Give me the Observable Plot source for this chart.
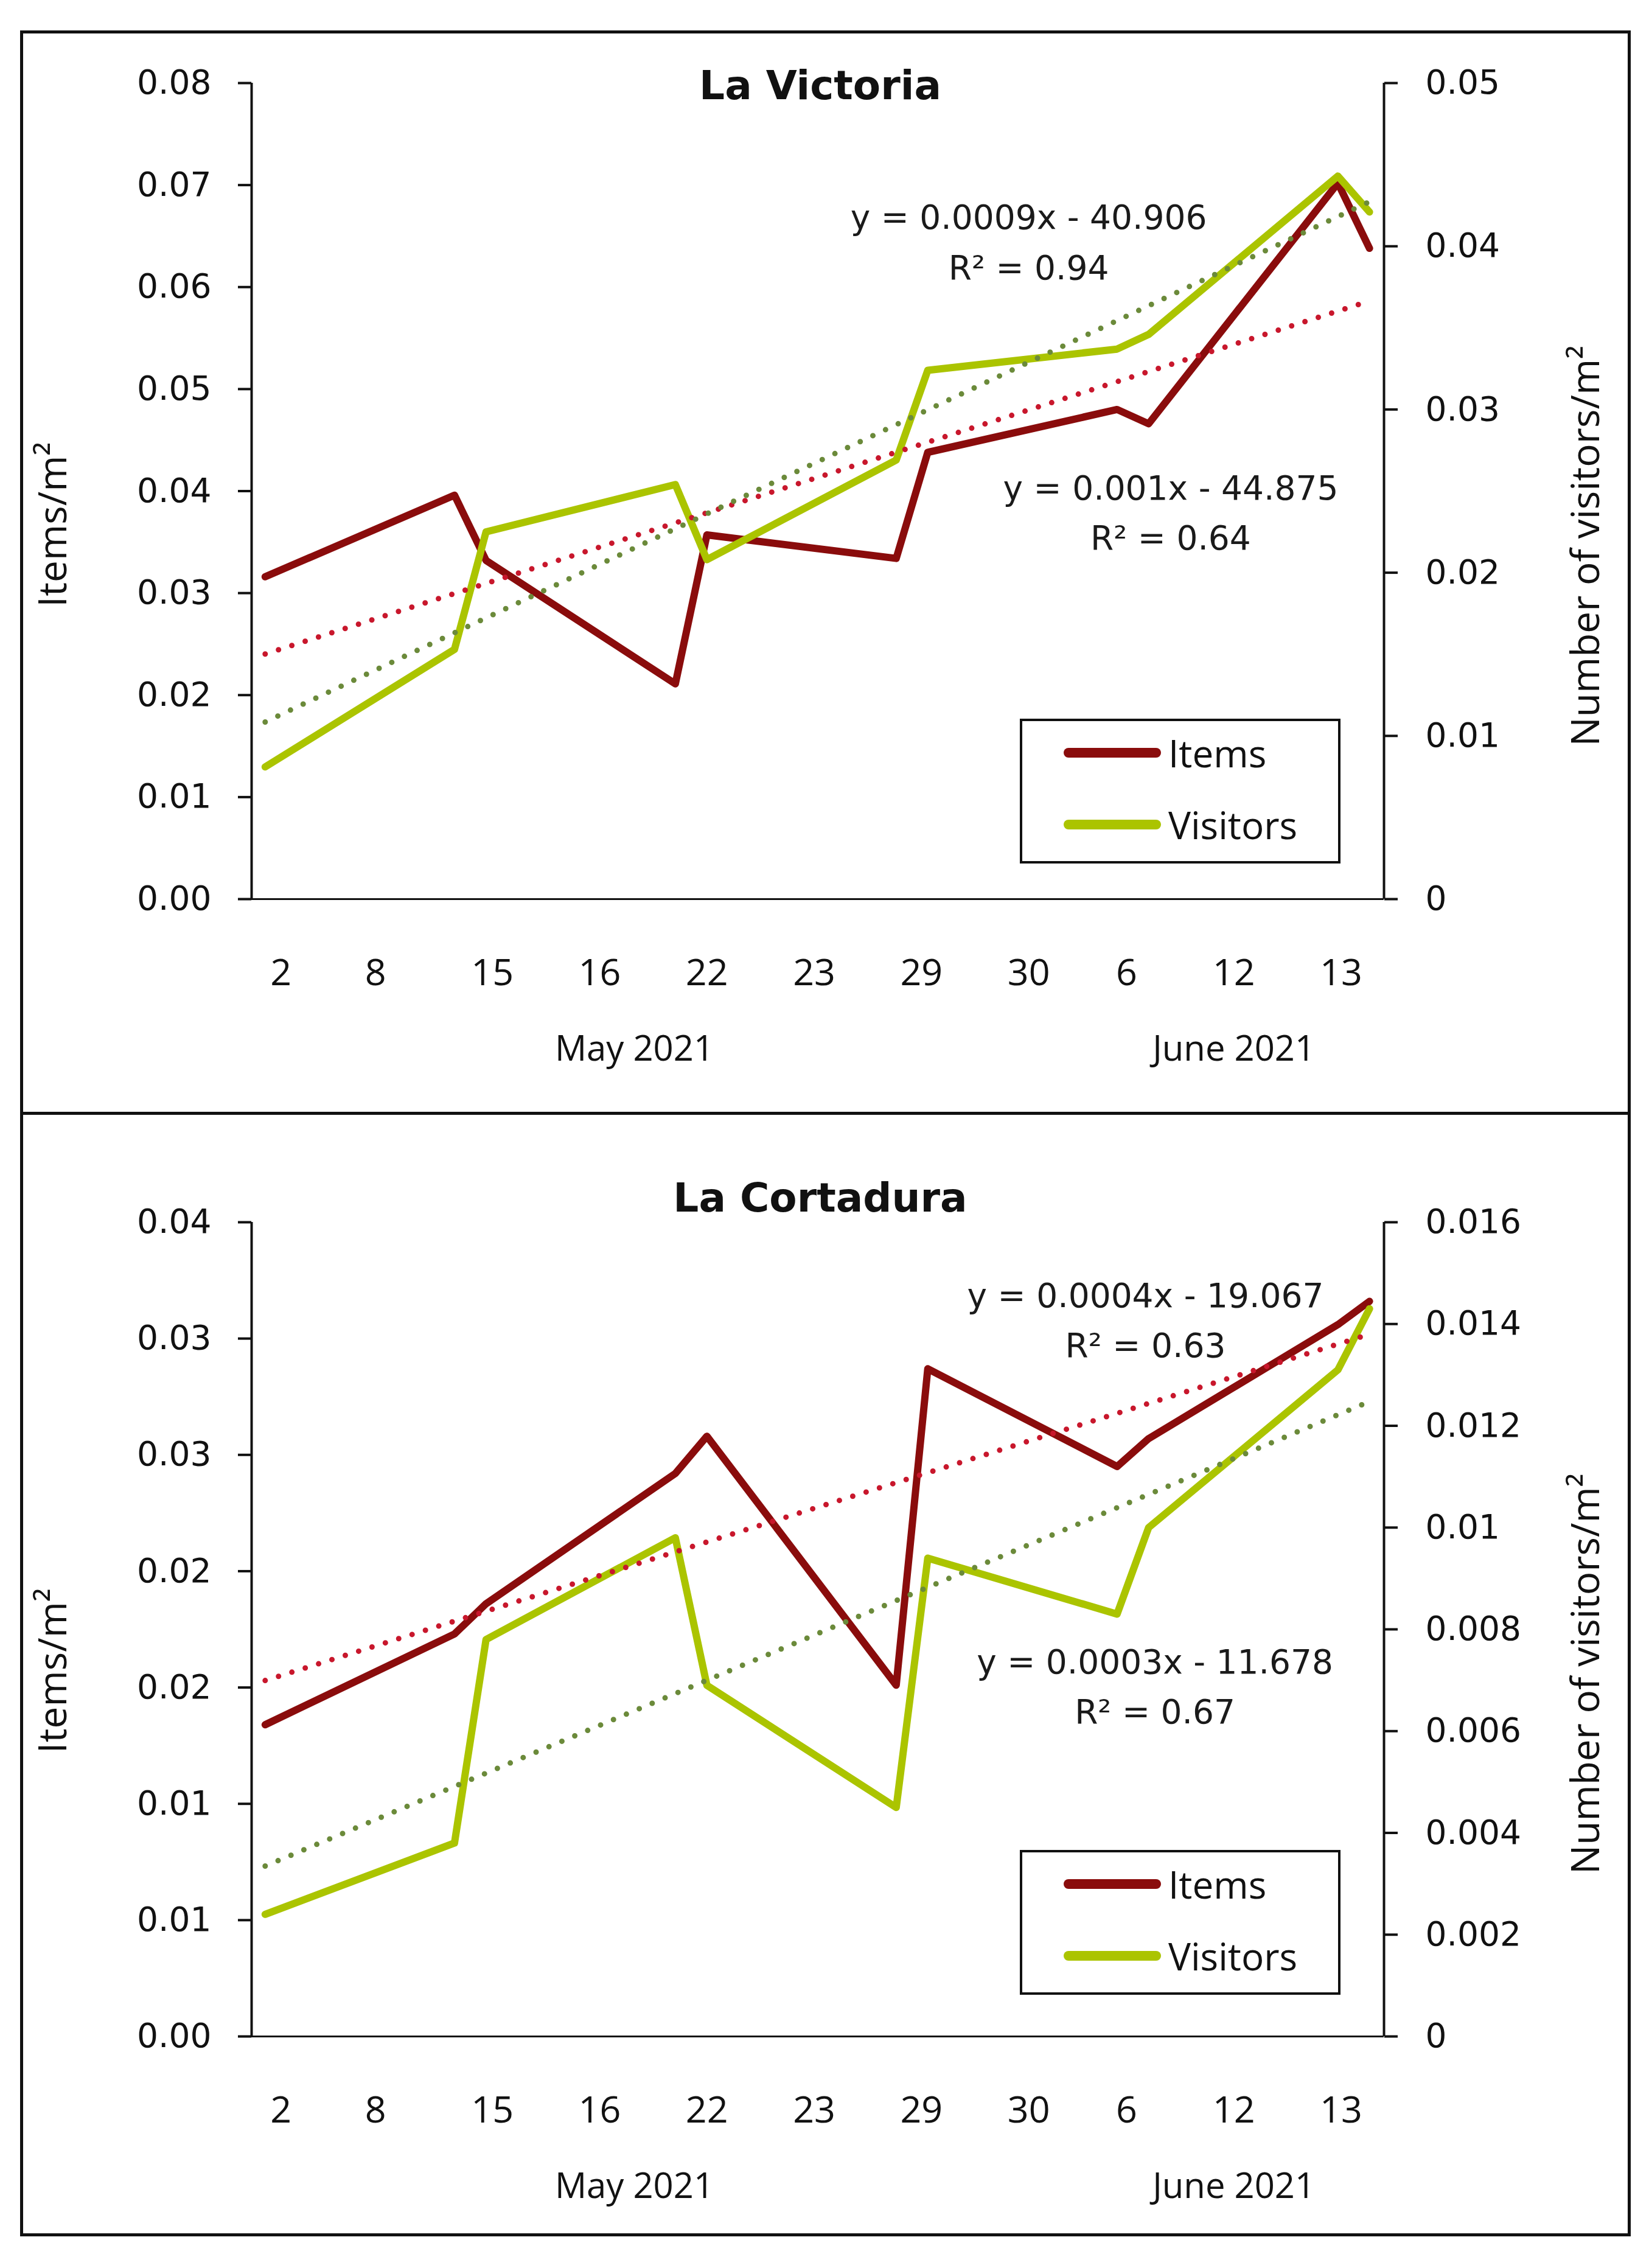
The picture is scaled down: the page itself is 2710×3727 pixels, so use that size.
<!DOCTYPE html>
<html>
<head>
<meta charset="utf-8">
<script src="https://cdn.jsdelivr.net/npm/d3@7"></script>
<script src="https://cdn.jsdelivr.net/npm/@observablehq/plot@0.6"></script>
<style>
  body { margin: 0; background: #fff; overflow: hidden; }
  #page { position: relative; width: 2710px; height: 3727px; background: #fff; }
  #page svg { position: absolute; left: 0; }
  .box { position: absolute; left: 33px; top: 50px; width: 2647px; height: 3625px; border: 5px solid #111; box-sizing: border-box; }
  .divider { position: absolute; left: 33px; top: 1827px; width: 2647px; height: 5px; background: #111; }
  .title { position: absolute; transform: translate(-50%, -50%); font: bold 66px 'DejaVu Sans', sans-serif; color: #111; white-space: nowrap; }
  .legend { position: absolute; border: 4px solid #111; background: #fff; box-sizing: border-box; width: 527px; height: 238px; font: 62px 'Open Sans', sans-serif; color: #111; }
  .legend .row { position: absolute; left: 68px; display: flex; align-items: center; }
  .legend .sw { width: 160px; height: 16px; border-radius: 8px; margin-right: 12px; }
</style>
</head>
<body>
<div id="page">
  <div class="box"></div>
  <div class="divider"></div>
</div>
<script>
// fechas de muestreo (posicion en dias desde el primer muestreo)
const dayPos = [0, 6, 7, 13, 14, 20, 21, 27, 28, 34, 35]
const tickDays = [0.5, 3.5, 7.2, 10.6, 14.0, 17.4, 20.8, 24.2, 27.3, 30.7, 34.1]
const tickLabels = ["2", "8", "15", "16", "22", "23", "29", "30", "6", "12", "13"]
const months = ["May 2021", "June 2021"]
const monthDays = [11.7, 30.7]
const xDomain = [-0.43, 35.46]

// La Victoria
const victoriaItems = [0.0316, 0.0396, 0.0332, 0.0211, 0.0357, 0.0334, 0.0438, 0.0480, 0.0466, 0.0702, 0.0638]
const victoriaVisitors = [0.0081, 0.0153, 0.0225, 0.0254, 0.0208, 0.0269, 0.0324, 0.0337, 0.0346, 0.0443, 0.0421]
const victoriaLeftTicks = [0, 0.01, 0.02, 0.03, 0.04, 0.05, 0.06, 0.07, 0.08]
const victoriaLeftLabels = ["0.00", "0.01", "0.02", "0.03", "0.04", "0.05", "0.06", "0.07", "0.08"]
const victoriaRightTicks = [0, 0.01, 0.02, 0.03, 0.04, 0.05]
const victoriaRightLabels = ["0", "0.01", "0.02", "0.03", "0.04", "0.05"]
const victoriaEqTexts = ["y = 0.0009x - 40.906\nR² = 0.94", "y = 0.001x - 44.875\nR² = 0.64"]
const victoriaEqDays = [24.2, 28.7]
const victoriaEqValues = [0.0648, 0.0383]

// La Cortadura
const cortaduraItems = [0.0134, 0.0173, 0.0186, 0.0242, 0.0258, 0.0151, 0.0287, 0.0245, 0.0257, 0.0306, 0.0316]
const cortaduraVisitors = [0.0024, 0.0038, 0.0078, 0.0098, 0.0069, 0.0045, 0.0094, 0.0083, 0.0100, 0.0131, 0.0143]
const cortaduraLeftTicks = [0, 0.005, 0.01, 0.015, 0.02, 0.025, 0.03, 0.035]
const cortaduraLeftLabels = ["0.00", "0.01", "0.01", "0.02", "0.02", "0.03", "0.03", "0.04"]
const cortaduraRightTicks = [0, 0.002, 0.004, 0.006, 0.008, 0.01, 0.012, 0.014, 0.016]
const cortaduraRightLabels = ["0", "0.002", "0.004", "0.006", "0.008", "0.01", "0.012", "0.014", "0.016"]
const cortaduraEqTexts = ["y = 0.0004x - 19.067\nR² = 0.63", "y = 0.0003x - 11.678\nR² = 0.67"]
const cortaduraEqDays = [27.9, 28.2]
const cortaduraEqValues = [0.03097, 0.01522]

const itemsColor = "#8a0c0c"
const visitorsColor = "#abc400"
const itemsTrendColor = "#c8172c"
const visitorsTrendColor = "#6b8a3a"

function drawPanel(p) {
  // los visitantes van en el eje derecho: se pasan a unidades del eje izquierdo
  const k = p.leftMax / p.rightMax
  const items = dayPos.map((d, i) => ({day: d, value: p.items[i]}))
  const visitors = dayPos.map((d, i) => ({day: d, value: p.visitors[i] * k}))
  const rightAt = p.rightTicks.map(v => v * k)
  const eqs = p.eqTexts.map((t, i) => ({text: t, day: p.eqDays[i], value: p.eqValues[i]}))

  let chart = Plot.plot({
    width: 2710,
    height: p.height,
    marginLeft: 413,
    marginRight: 436,
    marginTop: p.marginTop,
    marginBottom: p.marginBottom,
    style: {background: "transparent", fontFamily: "'DejaVu Sans', sans-serif", fontSize: "55px", color: "#111"},
    x: {domain: xDomain},
    y: {domain: [0, p.leftMax]},
    marks: [
      Plot.ruleX(xDomain, {y1: 0, y2: p.leftMax, strokeWidth: 4}),
      Plot.ruleY([0], {strokeWidth: 3}),
      Plot.axisY(p.leftTicks, {anchor: "left", label: null, tickSize: 22, tickPadding: 44, strokeWidth: 4,
        tickFormat: d => p.leftLabels[p.leftTicks.indexOf(d)]}),
      Plot.axisY(rightAt, {anchor: "right", label: null, tickSize: 22, tickPadding: 46, strokeWidth: 4,
        tickFormat: d => p.rightLabels[rightAt.indexOf(d)]}),
      Plot.axisX(tickDays, {anchor: "bottom", label: null, tickSize: 0, tickPadding: 98,
        fontFamily: "'Open Sans', sans-serif", fontSize: 61,
        tickFormat: d => tickLabels[tickDays.indexOf(d)]}),
      Plot.text(months, {x: (d, i) => monthDays[i], text: d => d, frameAnchor: "bottom", dy: 265,
        fontFamily: "'Open Sans', sans-serif", fontSize: 58}),
      Plot.text(["Items/m²"], {text: d => d, frameAnchor: "left", textAnchor: "middle", dx: -325, dy: p.leftTitleDy,
        rotate: -90, fontFamily: "'Open Sans', sans-serif", fontSize: 64}),
      Plot.text(["Number of visitors/m²"], {text: d => d, frameAnchor: "right", textAnchor: "middle", dx: 333,
        dy: p.rightTitleDy, rotate: -90, fontFamily: "'Open Sans', sans-serif", fontSize: 64}),
      Plot.line(items, {x: "day", y: "value", stroke: itemsColor, strokeWidth: 12, strokeLinejoin: "round", strokeLinecap: "round"}),
      Plot.line(visitors, {x: "day", y: "value", stroke: visitorsColor, strokeWidth: 12, strokeLinejoin: "round", strokeLinecap: "round"}),
      Plot.linearRegressionY(items, {x: "day", y: "value", ci: 0, stroke: itemsTrendColor, strokeWidth: 9,
        strokeDasharray: "0 23", strokeLinecap: "round"}),
      Plot.linearRegressionY(visitors, {x: "day", y: "value", ci: 0, stroke: visitorsTrendColor, strokeWidth: 9,
        strokeDasharray: "0 23", strokeLinecap: "round"}),
      Plot.text(eqs, {x: "day", y: "value", text: "text", lineHeight: 1.5, fontSize: 55, fill: "#1a1a1a"})
    ]
  })
  chart.style.top = p.top + "px"
  d3.select('#page').append(() => chart)

  // titulo y leyenda
  d3.select('#page').append('div').attr('class', 'title')
    .style('left', '1348px').style('top', p.titleY + 'px').text(p.title)
  let leg = d3.select('#page').append('div').attr('class', 'legend')
    .style('left', '1676px').style('top', p.legendY + 'px')
  ;[["Items", itemsColor, 10], ["Visitors", visitorsColor, 128]].forEach(([name, color, y]) => {
    let row = leg.append('div').attr('class', 'row').style('top', y + 'px')
    row.append('div').attr('class', 'sw').style('background', color)
    row.append('span').text(name)
  })
}

drawPanel({
  title: "La Victoria", top: 0, height: 1830, marginTop: 136, marginBottom: 353,
  items: victoriaItems, visitors: victoriaVisitors, leftMax: 0.08, rightMax: 0.05,
  leftTicks: victoriaLeftTicks, leftLabels: victoriaLeftLabels,
  rightTicks: victoriaRightTicks, rightLabels: victoriaRightLabels,
  eqTexts: victoriaEqTexts, eqDays: victoriaEqDays, eqValues: victoriaEqValues,
  leftTitleDy: 55, rightTitleDy: 90, titleY: 140, legendY: 1181
})

drawPanel({
  title: "La Cortadura", top: 1830, height: 1897, marginTop: 178, marginBottom: 381,
  items: cortaduraItems, visitors: cortaduraVisitors, leftMax: 0.035, rightMax: 0.016,
  leftTicks: cortaduraLeftTicks, leftLabels: cortaduraLeftLabels,
  rightTicks: cortaduraRightTicks, rightLabels: cortaduraRightLabels,
  eqTexts: cortaduraEqTexts, eqDays: cortaduraEqDays, eqValues: cortaduraEqValues,
  leftTitleDy: 68, rightTitleDy: 73, titleY: 1968, legendY: 3040
})
</script>
</body>
</html>
